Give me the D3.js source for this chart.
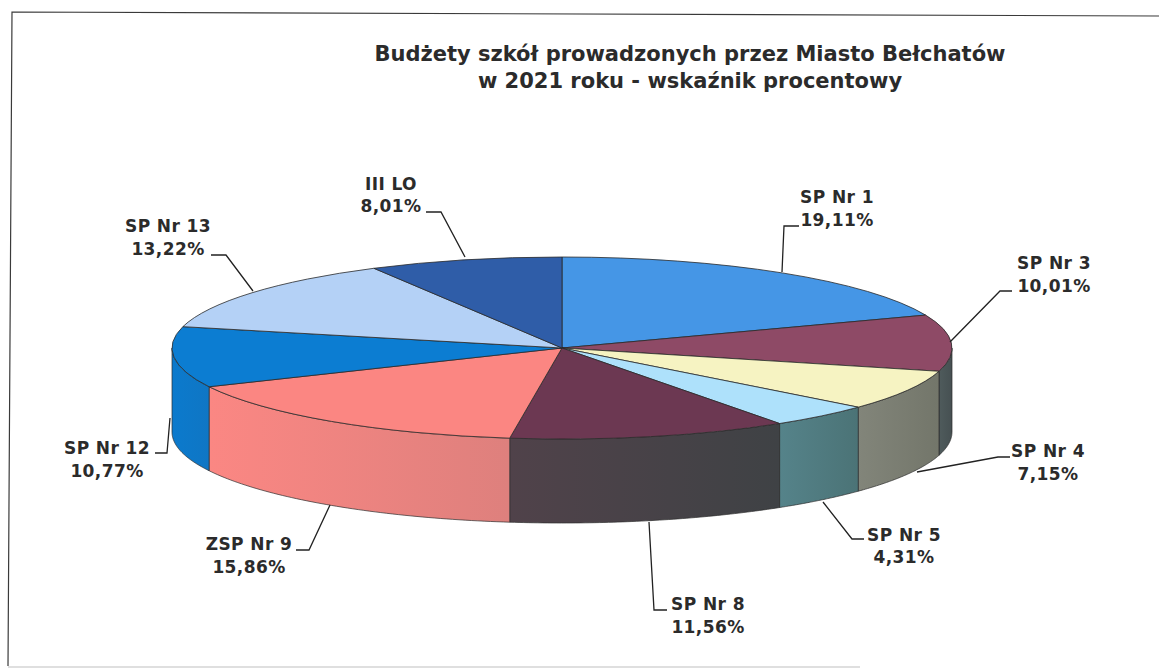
<!DOCTYPE html>
<html><head><meta charset="utf-8">
<script src="https://cdnjs.cloudflare.com/ajax/libs/d3/7.8.5/d3.min.js"></script>
<style>html,body{margin:0;padding:0;background:#fff}svg{display:block}</style>
</head><body><div id="c"></div>
<script>
const categories=["SP Nr 1","SP Nr 3","SP Nr 4","SP Nr 5","SP Nr 8","ZSP Nr 9","SP Nr 12","SP Nr 13","III LO"];
const values=[19.11,10.01,7.15,4.31,11.56,15.86,10.77,13.22,8.01];
const topColors=["#4596e6","#8e4a66","#f6f3c2","#aee1fb","#6c3852","#fb8682","#0c7dd2","#b4d1f6","#2f5da8"];
const wallLeft=["#3a80c8","#4f5b5c","#82857a","#55838a","#50424a","#fb8783","#0b7acd","#99aabb","#224466"];
const wallRight=["#3a80c8","#465052","#73766a","#4b7376","#3f4245","#de807d","#0f76c4","#99aabb","#224466"];
const titleLines=["Budżety szkół prowadzonych przez Miasto Bełchatów","w 2021 roku - wskaźnik procentowy"];
// annotation layout: label centre, two baselines, leader polyline
const labelX=[837,1054,1048,904,708,249,107,168,391];
const labelY1=[203,269,457,541,610,550,454,232,190];
const labelY2=[226,292,480,563,633,573,477,255,212];
const leaders=[
 [[782,272],[784,226],[799,226]],
 [[950,342],[1000,291],[1012,291]],
 [[917,472],[998,457],[1010,457]],
 [[823,502],[852,539],[864,539]],
 [[649,522],[654,610],[667,610]],
 [[330,505],[309,550],[296,550]],
 [[170,418],[167,453],[155,453]],
 [[253,291],[226,255],[211,255]],
 [[465,257],[441,212],[426,212]]];

const W=1159,H=670,cx=562,cy=348,rx=390,ry=91,depth=84;
const svg=d3.select("#c").append("svg").attr("width",W).attr("height",H);
svg.append("rect").attr("width",W).attr("height",H).attr("fill","#fff");
svg.append("path").attr("d","M8,666L12,12L1159,16").attr("fill","none").attr("stroke","#3a3a3a").attr("stroke-width",1.2);
svg.append("path").attr("d","M8,667L860,667").attr("fill","none").attr("stroke","#d4d4d4").attr("stroke-width",1.5);

const arcs=d3.pie().sort(null).value(d=>d)(values);
const px=d3.scaleLinear([-1,1],[cx-rx,cx+rx]), py=d3.scaleLinear([-1,1],[cy-ry,cy+ry]);
const lineGen=d3.line();
const defs=svg.append("defs");
const stops=(id,a,b)=>{const g=defs.append("linearGradient").attr("id",id);g.append("stop").attr("offset","0").attr("stop-color",a);g.append("stop").attr("offset","1").attr("stop-color",b);};

// side walls (front half only)
arcs.forEach((d,i)=>{
  const a=Math.max(d.startAngle,Math.PI/2), b=Math.min(d.endAngle,3*Math.PI/2);
  if(b<=a) return;
  stops("w"+i,wallLeft[i],wallRight[i]);
  const angs=d3.range(0,61).map(k=>a+(b-a)*k/60);
  const rim=angs.map(t=>[px(Math.sin(t)),py(-Math.cos(t))]);
  const low=rim.slice().reverse().map(p=>[p[0],p[1]+depth]);
  svg.append("path").attr("d",lineGen(rim.concat(low))+"Z")
    .attr("fill",`url(#w${i})`).attr("stroke","#2d2d2d").attr("stroke-width",0.7);
});

// top faces
const arcGen=d3.arc().innerRadius(0).outerRadius(rx);
const topFaces=svg.append("g").attr("transform",`translate(${cx},${cy}) scale(1,${ry/rx})`);
topFaces.selectAll("path").data(arcs).join("path").attr("d",arcGen)
  .attr("fill",(d,i)=>topColors[i]).attr("stroke","#2a2a2a").attr("stroke-width",0.8)
  .attr("vector-effect","non-scaling-stroke");

// leaders
svg.append("g").selectAll("path").data(leaders).join("path").attr("d",d=>lineGen(d))
  .attr("fill","none").attr("stroke","#222").attr("stroke-width",1.3);

// labels
const fmt=v=>d3.format(".2f")(v).replace(".",",")+"%";
const font="'DejaVu Sans',Verdana,sans-serif";
const lab=svg.append("g").attr("font-family",font).attr("font-weight",700).attr("font-size",17).attr("letter-spacing",0.4).attr("fill","#2b2b2b").attr("text-anchor","middle");
categories.forEach((c,i)=>{
  lab.append("text").attr("x",labelX[i]).attr("y",labelY1[i]).text(c);
  lab.append("text").attr("x",labelX[i]).attr("y",labelY2[i]).text(fmt(values[i]));
});
svg.append("g").attr("font-family",font).attr("font-weight",700).attr("font-size",21).attr("fill","#2b2b2b").attr("text-anchor","middle")
 .selectAll("text").data(titleLines).join("text").attr("x",690).attr("y",(d,i)=>61+i*27).text(d=>d);
</script></body></html>
